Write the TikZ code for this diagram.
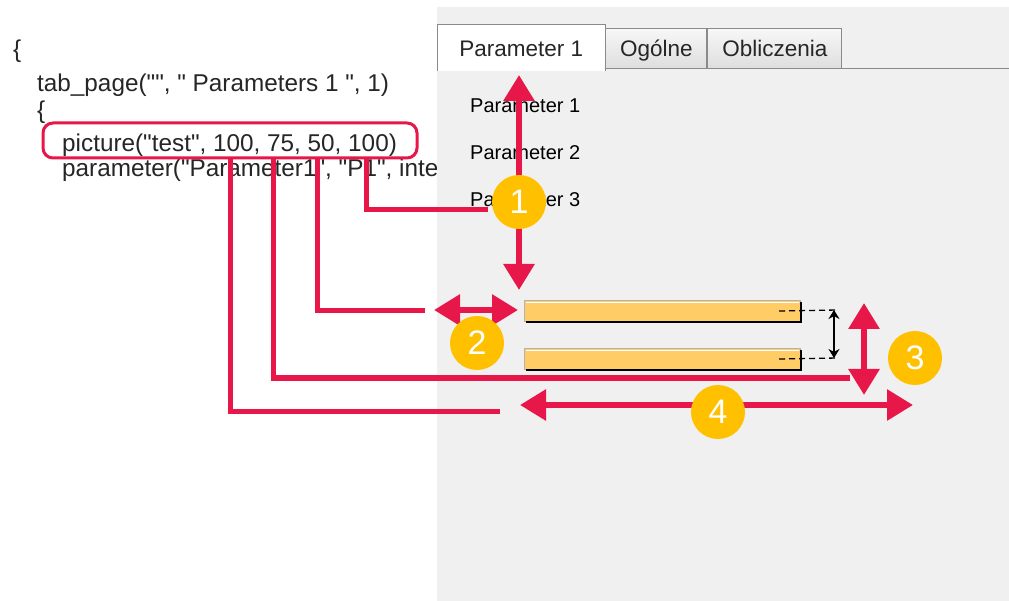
\documentclass[tikz,border=0pt]{standalone}
\usepackage{fontspec}
\setmainfont{Liberation Sans}[Ligatures=TeXOff]
\usepackage{xcolor}
\usepackage{tikz}
\usetikzlibrary{arrows.meta, positioning}
\definecolor{markred}{HTML}{E8174A}
\definecolor{markgold}{HTML}{FFC000}
\definecolor{panelgray}{HTML}{F0F0F0}
\definecolor{tabedge}{HTML}{8A8A8A}
\definecolor{barfill}{HTML}{FFCC66}

\begin{document}
\begin{tikzpicture}[
    x=1pt, y=-1pt,
    codeline/.style = {anchor=base west, inner sep=0pt, text=black!85,
                       font=\fontsize{24.3}{28}\selectfont},
    listitem/.style = {anchor=base west, inner sep=0pt,
                       font=\fontsize{20}{24}\selectfont},
    tabhead/.style  = {anchor=south west, inner sep=0pt, minimum height=40pt,
                       text height=17pt, text depth=0pt, text=black!85,
                       font=\fontsize{22.5}{26}\selectfont},
    tabidle/.style  = {tabhead, draw=tabedge, line width=1pt,
                       top color=black!3, bottom color=black!13},
    tabopen/.style  = {tabhead, fill=white, minimum height=46pt},
    link/.style     = {draw=markred, line width=5pt},
    dimarrow/.style = {markred, line width=6pt,
                       {Triangle[length=26pt,width=30pt]}-{Triangle[length=26pt,width=30pt]}},
    marker/.style   = {circle, fill=markgold, text=white, minimum size=54pt,
                       inner sep=0pt, font=\fontsize{34}{40}\selectfont},
    slider/.style   = {anchor=north west, fill=barfill, draw=black!30, line width=1pt,
                       minimum width=276pt, minimum height=21pt, inner sep=0pt},
    guide/.style    = {black, line width=1.3pt, dash pattern=on 6pt off 4pt},
    gauge/.style    = {black, line width=1.5pt,
                       {Stealth[length=9pt,width=11pt]}-{Stealth[length=9pt,width=11pt]}}
  ]
  \useasboundingbox (0,0) rectangle (1009,601);
  \fill[white] (0,0) rectangle (1009,601);

  % script source
  \node[codeline] (open1)   at (13,58)  {\{};
  \node[codeline] (tabcall) at (37,92)  {tab\_page("", " Parameters 1 ", 1)};
  \node[codeline] (open2)   at (37,119) {\{};
  \node[codeline] (piccall) at (62,152) {picture("test", 100, 75, 50, 100)};
  \node[codeline] (parcall) at (62,177) {parameter("Parameter1", "P1", inte};

  % dialog panel
  \fill[panelgray] (437,7) rectangle (1009,601);
  \node[tabopen, minimum width=168pt] (tabmain) at (437,71) {Parameter 1};
  \node[tabidle, minimum width=101pt] (tabgen)  at ([yshift=2pt]tabmain.south east) {Ogólne};
  \node[tabidle, minimum width=134pt] (tabcalc) at (tabgen.south east) {Obliczenia};
  \coordinate (tabrule) at (1009,69);
  \draw[tabedge, line width=1pt] (tabmain.south west) -- (tabmain.north west)
       -- (tabmain.north east) -- (tabmain.south east);
  \draw[tabedge, line width=1pt] (tabcalc.south east) -- (tabrule);

  \node[listitem] (item1) at (470,113) {Parameter 1};
  \node[listitem] (item2) at ([yshift=-47pt]item1.base west) {Parameter 2};
  \node[listitem] (item3) at ([yshift=-47pt]item2.base west) {Parameter 3};

  % picture preview bars
  \node[slider] (bartop) at (524,300) {};
  \node[slider] (barbot) at (524,348) {};
  \draw[white, line width=1.5pt] ([shift={(2pt,-2.5pt)}]bartop.north west) -- ([shift={(-2pt,-2.5pt)}]bartop.north east);
  \draw[white, line width=1.5pt] ([shift={(2pt,-2.5pt)}]barbot.north west) -- ([shift={(-2pt,-2.5pt)}]barbot.north east);
  \draw[black, line width=2pt] ([xshift=2pt]bartop.south west) -- (bartop.south east) -- ([yshift=-2pt]bartop.north east);
  \draw[black, line width=2pt] ([xshift=2pt]barbot.south west) -- (barbot.south east) -- ([yshift=-2pt]barbot.north east);
  \coordinate (gapA) at (838,310);
  \coordinate (gapB) at (838,358);
  \draw[guide] ([xshift=-22pt]bartop.east) -- (gapA);
  \draw[guide] ([xshift=-22pt]barbot.east) -- (gapB);
  \draw[gauge] ([xshift=-4pt]gapA) -- ([xshift=-4pt]gapB);

  % highlighted call and its leaders
  \node[draw=markred, line width=3pt, rounded corners=10pt, minimum width=374pt,
        minimum height=35pt, inner sep=0pt] (picbox) at (230,140.5) {};
  \coordinate (tap1) at ([xshift=136pt]picbox.south);
  \coordinate (tap2) at ([xshift=87pt]picbox.south);
  \coordinate (tap3) at ([xshift=43pt]picbox.south);
  \coordinate (tap4) at (picbox.south);
  \coordinate (end1) at (488,210);
  \coordinate (end2) at (425,311);
  \coordinate (end3) at (850,378);
  \coordinate (end4) at (500,411);
  \draw[link] (tap1) |- (end1);
  \draw[link] (tap2) |- (end2);
  \draw[link] (tap3) |- (end3);
  \draw[link] (tap4) |- (end4);

  % dimension arrows
  \coordinate (up1)    at (519,75);
  \coordinate (down1)  at (519,290);
  \coordinate (left2)  at (434,310);
  \coordinate (right2) at (518,310);
  \coordinate (up3)    at (864,303);
  \coordinate (down3)  at (864,395);
  \coordinate (left4)  at (520,405);
  \coordinate (right4) at (913,405);
  \draw[dimarrow] (up1)   -- (down1);
  \draw[dimarrow] (left2) -- (right2);
  \draw[dimarrow] (up3)   -- (down3);
  \draw[dimarrow] (left4) -- (right4);

  \node[marker] (mark1) at (519,202) {1};
  \node[marker] (mark2) at (477,343) {2};
  \node[marker] (mark3) at (915,358) {3};
  \node[marker] (mark4) at (718,412) {4};
\end{tikzpicture}
\end{document}
